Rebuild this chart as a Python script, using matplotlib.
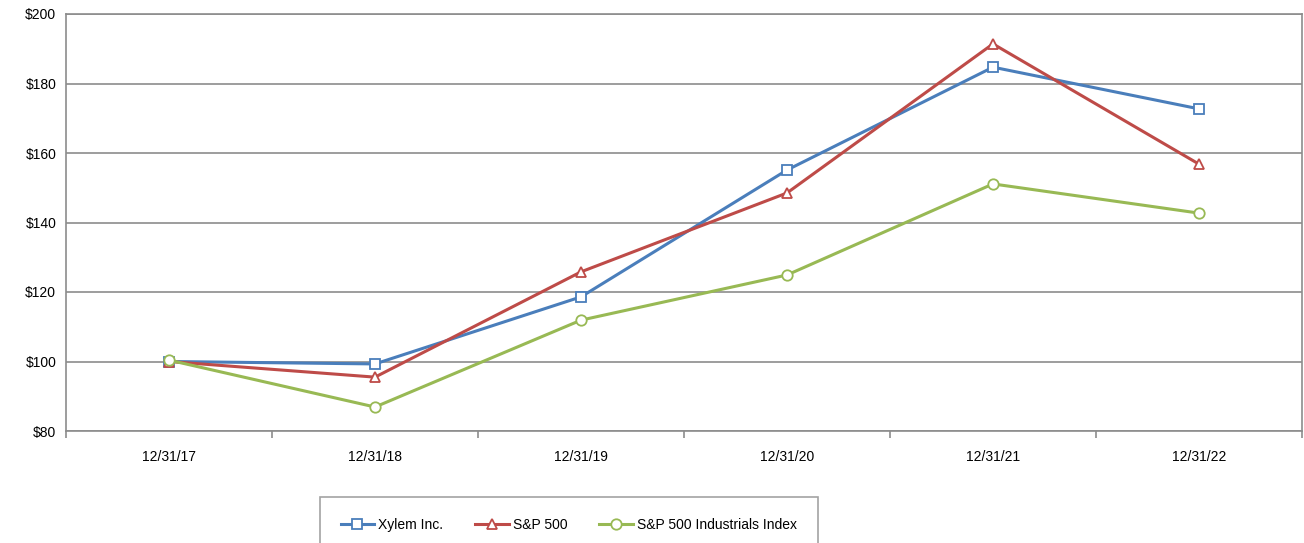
import matplotlib
matplotlib.use('Agg')
import matplotlib.pyplot as plt
from matplotlib.ticker import FixedLocator

plt.rcParams['font.family'] = ['Liberation Sans', 'DejaVu Sans']

dates = ['12/31/17', '12/31/18', '12/31/19', '12/31/20', '12/31/21', '12/31/22']
xylem = [100.0, 99.3, 118.6, 155.1, 184.7, 172.7]
sp500 = [100.0, 95.5, 125.8, 148.5, 191.4, 156.8]
industrials = [100.4, 86.9, 111.9, 124.9, 151.1, 142.7]
yticks = [80, 100, 120, 140, 160, 180, 200]

grey = '#8c8c8c'

fig = plt.figure(figsize=(13.04, 5.43), dpi=100)
ax = fig.add_axes([66/1304, 112/543, 1236/1304, 417/543])

x = list(range(len(dates)))
series = [(xylem, '#4a7ebb', 's', 'Xylem Inc.'),
          (sp500, '#be4b48', '^', 'S&P 500'),
          (industrials, '#98b954', 'o', 'S&P 500 Industrials Index')]
for vals, col, mk, lab in series:
    ax.plot(x, vals, color=col, lw=2.2, marker=mk, ms=7.5, mfc='white',
            mec=col, mew=1.3, label=lab, zorder=3)

ax.set_xlim(-0.5, len(dates) - 0.5)
ax.set_ylim(80, 200)
ax.set_yticks(yticks)
ax.set_yticklabels(['$%d' % v for v in yticks])
ax.yaxis.grid(True, color=grey, lw=1.2)
ax.set_axisbelow(True)
ax.tick_params(axis='y', length=0, pad=7, labelsize=10, colors='black')

ax.set_xticks(x)
ax.set_xticklabels(dates)
ax.tick_params(axis='x', which='major', length=0, pad=14, labelsize=10)
ax.xaxis.set_minor_locator(FixedLocator([i - 0.5 for i in range(len(dates) + 1)]))
ax.tick_params(axis='x', which='minor', length=5, color=grey, width=1.2, direction='out')

for s in ax.spines.values():
    s.set_color(grey)
    s.set_linewidth(1.2)

leg = fig.legend(loc='lower left', bbox_to_anchor=(313/1304, -0.03), ncol=3,
                 frameon=True, fancybox=False, fontsize=10, handlelength=2.4,
                 columnspacing=2.3, borderpad=1.5, handletextpad=0.3)
leg.get_frame().set_edgecolor(grey)
leg.get_frame().set_linewidth(1.2)

fig.savefig('out.png', dpi=100)
